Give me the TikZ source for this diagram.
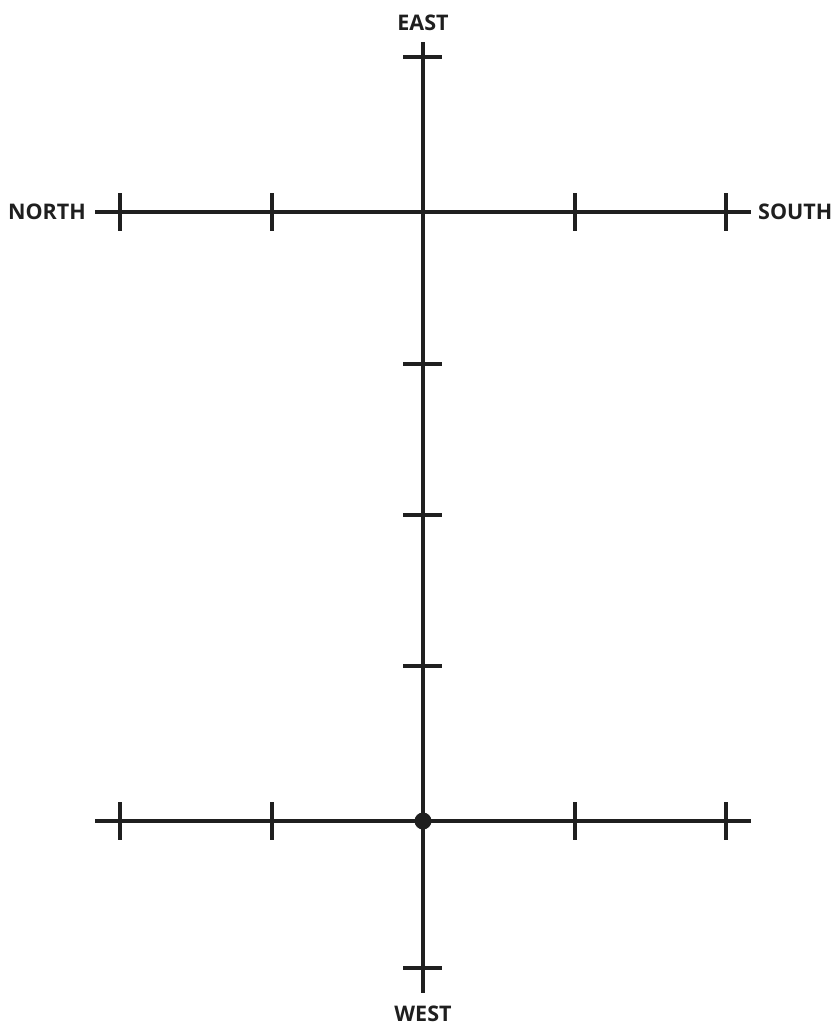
\documentclass[tikz,border=0pt]{standalone}
\usepackage{fontspec}
\setmainfont{Open Sans}
\begin{document}
\begin{tikzpicture}[x=1pt,y=-1pt,
  axis/.style={line width=4.2pt,color=black!88},
  tick/.style={line width=4.2pt,color=black!88},
  lbl/.style={font=\bfseries\fontsize{21.5}{24}\selectfont,text=black!88,inner sep=0pt}]
\useasboundingbox (0,0) rectangle (839,1028);
% vertical axis
\coordinate (vt) at (423,42);
\coordinate (vb) at (423,993);
\draw[axis] (vt) -- (vb);
% top horizontal axis
\coordinate (hl1) at (95,212);
\coordinate (hr1) at (751,212);
\draw[axis] (hl1) -- (hr1);
% bottom horizontal axis
\coordinate (hl2) at (95,821);
\coordinate (hr2) at (751,821);
\draw[axis] (hl2) -- (hr2);
% ticks on horizontal axes
\foreach \x in {120,272,575,726}{
  \draw[tick] (\x,193) -- (\x,231);
  \draw[tick] (\x,802) -- (\x,840);
}
% ticks on vertical axis
\foreach \y in {57,364,515,666,968}{
  \draw[tick] (403,\y) -- (442,\y);
}
% origin dot
\node[circle,fill=black!88,inner sep=0pt,minimum size=17pt] (o) at (423,821) {};
% labels
\node[lbl] (east) at (423,23) {EAST};
\node[lbl] (west) at (423,1014) {WEST};
\node[lbl,anchor=east] (north) at (86,212) {NORTH};
\node[lbl,anchor=west] (south) at (758,212) {SOUTH};
\end{tikzpicture}
\end{document}
